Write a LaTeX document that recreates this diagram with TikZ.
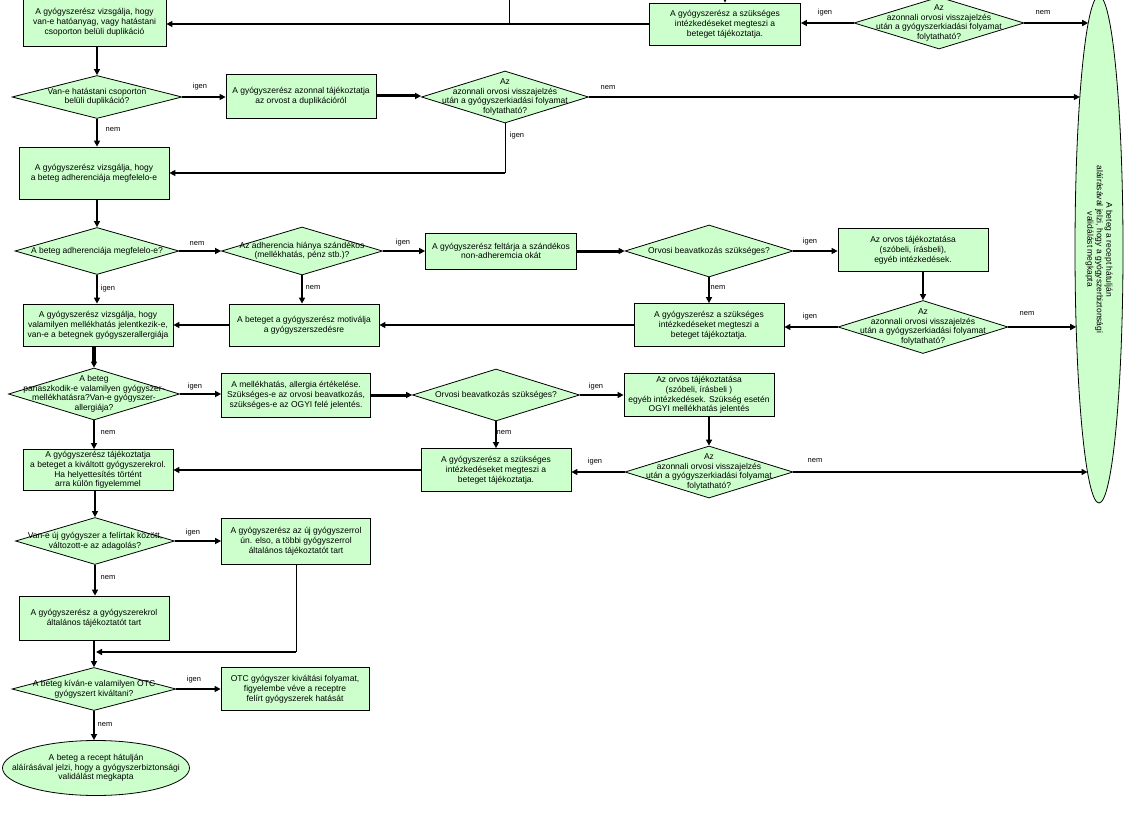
\documentclass[tikz,border=0pt]{standalone}
\usepackage{fontspec}
\setmainfont{Liberation Sans}
\usetikzlibrary{shapes.geometric,arrows.meta,calc}
\definecolor{nodegreen}{RGB}{204,255,204}
\begin{document}
\begin{tikzpicture}[x=1pt,y=-1pt,
  box/.style 2 args={draw, fill=nodegreen, line width=0.8pt, minimum width=#1pt, minimum height=#2pt, inner sep=0pt, align=center, font=\fontsize{8.5}{9.8}\selectfont},
  dia/.style 2 args={diamond, draw, fill=nodegreen, line width=0.8pt, minimum width=#1pt, minimum height=#2pt, inner sep=0pt},
  ell/.style 2 args={ellipse, draw, fill=nodegreen, line width=0.8pt, minimum width=#1pt, minimum height=#2pt, inner sep=0pt},
  txt/.style={align=center, font=\fontsize{8.5}{9.5}\selectfont, inner sep=0pt},
  lbl/.style={font=\fontsize{7.5}{8}\selectfont, inner sep=0pt},
  arr/.style={line width=2pt, -{Triangle[length=6pt,width=6pt]}},
  arrthick/.style={line width=3pt, -{Triangle[length=6pt,width=6pt]}},
  plainline/.style={line width=2pt},
  thinline/.style={line width=1pt},
  ]
\useasboundingbox (0,0) rectangle (1143,824);

% ---------- nodes ----------
\node[box={151}{42}] (B0) at (725,24) {A gyógyszerész a szükséges\\intézkedéseket megteszi a\\beteget tájékoztatja.};
\node[dia={170}{52}, label={[txt]center:{Az\\azonnali orvosi visszajelzés\\után a gyógyszerkiadási folyamat\\folytatható?}}] (D0) at (939,23) {};
\node[box={143}{47}] (B1) at (94.5,22.5) {A gyógyszerész vizsgálja, hogy\\van-e hatóanyag, vagy hatástani\\csoporton belüli duplikáció};
\node[dia={170}{43}, label={[txt]center:{Van-e hatástani csoporton\\belüli duplikáció?}}] (D1) at (97,97) {};
\node[box={150}{44}] (B2) at (301,96) {A gyógyszerész azonnal tájékoztatja\\az orvost a duplikációról};
\node[dia={167}{52}, label={[txt]center:{Az\\azonnali orvosi visszajelzés\\után a gyógyszerkiadási folyamat\\folytatható?}}] (D2) at (505,97) {};
\node[box={150}{52}] (B3) at (94,173) {A gyógyszerész vizsgálja, hogy\\a beteg adherenciája megfelelo-e};
\node[dia={164}{47}, label={[txt]center:{A beteg adherenciája megfelelo-e?}}] (D3) at (97,251) {};
\node[dia={161}{48}, label={[txt]center:{Az adherencia hiánya szándékos\\(mellékhatás, pénz stb.)?}}] (D4) at (302,251) {};
\node[box={151}{36}] (B4) at (501,251) {A gyógyszerész feltárja a szándékos\\non-adheremcia okát};
\node[dia={168}{52}, label={[txt]center:{Orvosi beavatkozás szükséges?}}] (D5) at (709,251) {};
\node[box={150}{43}] (B5) at (913,250) {Az orvos tájékoztatása\\(szóbeli, írásbeli),\\egyéb intézkedések.};
\node[dia={170}{53}, label={[txt]center:{Az\\azonnali orvosi visszajelzés\\után a gyógyszerkiadási folyamat\\folytatható?}}] (D6) at (923,327) {};
\node[box={150}{43}] (B6) at (709,325) {A gyógyszerész a szükséges\\intézkedéseket megteszi a\\beteget tájékoztatja.};
\node[box={150}{42}] (B7) at (304,325) {A beteget a gyógyszerész motiválja\\a gyógyszerszedésre};
\node[box={150}{42}] (B8) at (98,325) {A gyógyszerész vizsgálja, hogy\\valamilyen mellékhatás jelentkezik-e,\\van-e a betegnek gyógyszerallergiája};
\node[dia={171}{52}, label={[txt]center:{A beteg\\panaszkodik-e valamilyen gyógyszer-\\mellékhatásra?Van-e gyógyszer-\\allergiája?}}] (D7) at (94,394) {};
\node[box={149}{44}] (B9) at (296,395) {A mellékhatás, allergia értékelése.\\Szükséges-e az orvosi beavatkozás,\\szükséges-e az OGYI felé jelentés.};
\node[dia={167}{52}, label={[txt]center:{Orvosi beavatkozás szükséges?}}] (D8) at (496,395) {};
\node[box={150}{43}] (B10) at (699,395) {Az orvos tájékoztatása\\(szóbeli, írásbeli )\\egyéb intézkedések. Szükség esetén\\OGYI mellékhatás jelentés};
\node[dia={168}{52}, label={[txt]center:{Az\\azonnali orvosi visszajelzés\\után a gyógyszerkiadási folyamat\\folytatható?}}] (D9) at (709,472) {};
\node[box={150}{43}] (B11) at (496,470) {A gyógyszerész a szükséges\\intézkedéseket megteszi a\\beteget tájékoztatja.};
\node[box={150}{41}] (B12) at (98,470) {A gyógyszerész tájékoztatja\\a beteget a kiváltott gyógyszerekrol.\\Ha helyettesítés történt\\arra külön figyelemmel};
\node[dia={159}{47}, label={[txt]center:{Van-e új gyógyszer a felírtak között,\\változott-e az adagolás?}}] (D10) at (95,541) {};
\node[box={149}{46}] (B13) at (296,541) {A gyógyszerész az új gyógyszerrol\\ún. elso, a többi gyógyszerrol\\általános tájékoztatót tart};
\node[box={150}{44}] (B14) at (94,618) {A gyógyszerész a gyógyszerekrol\\általános tájékoztatót tart};
\node[dia={164}{43}, label={[txt]center:{A beteg kíván-e valamilyen OTC\\gyógyszert kiváltani?}}] (D11) at (94,689) {};
\node[box={148}{43}] (B15) at (295,689) {OTC gyógyszer kiváltási folyamat,\\figyelembe véve a receptre\\felírt gyógyszerek hatását};
\node[ell={187}{55}, label={[txt]center:{A beteg a recept hátulján\\aláírásával jelzi, hogy a gyógyszerbiztonsági\\validálást megkapta}}] (E1) at (96,768) {};
\node[ell={48}{507}, label={[txt, rotate=-90]center:{A beteg a recept hátulján\\aláírásával jelzi, hogy a gyógyszerbiztonsági\\validálást megkapta}}] (E2) at (1099,249.5) {};

% ---------- free ends ----------
\coordinate (t1) at (509,0);
\coordinate (t2) at (725,0);
\coordinate (e2a) at (1088.2,23);
\coordinate (e2b) at (1079.8,97);
\coordinate (e2c) at (1076.2,327);
\coordinate (e2d) at (1087.5,472);
\coordinate (m) at (96,652);

% ---------- connectors ----------
\draw[thinline] (t1) -- (t1 |- B0.west);
\draw[arr] (t2) -- (B0.north);
\draw[arr] (B0.west) -- (B0.west -| B1.east);
\draw[arr] (D0.west) -- (D0.west -| B0.east);
\draw[arr] (D0.east) -- (e2a);

\draw[arr] (D1.north |- B1.south) -- (D1.north);
\draw[arr] (D1.east) -- (D1.east -| B2.west);
\draw[arrthick] (B2.east) -- (B2.east -| D2.west);
\draw[arr] (D2.east) -- (e2b);
\draw[thinline] (D2.south) -- (D2.south |- B3.east);
\draw[arr] (D2.south |- B3.east) -- (B3.east);
\draw[arr] (D1.south) -- (D1.south |- B3.north);

\draw[arr] (D3.north |- B3.south) -- (D3.north);
\draw[arr] (D3.east) -- (D4.west);
\draw[arr] (D4.east) -- (B4.west);
\draw[arrthick] (B4.east) -- (D5.west);
\draw[arr] (D5.east) -- (D5.east -| B5.west);
\draw[arr] (D6.north |- B5.south) -- (D6.north);
\draw[arr] (D6.east) -- (e2c);
\draw[arr] (D6.west) -- (D6.west -| B6.east);
\draw[arr] (D5.south) -- (B6.north);
\draw[arr] (B6.west) -- (B6.west -| B7.east);
\draw[arr] (D4.south) -- (D4.south |- B7.north);
\draw[arr] (B7.west) -- (B7.west -| B8.east);
\draw[arr] (D3.south) -- (D3.south |- B8.north);

\draw[line width=4pt, -{Triangle[length=6pt,width=6pt]}] (D7.north |- B8.south) -- (D7.north);
\draw[arr] (D7.east) -- (D7.east -| B9.west);
\draw[arrthick] (B9.east) -- (B9.east -| D8.west);
\draw[arr] (D8.east) -- (D8.east -| B10.west);
\draw[arr] (D9.north |- B10.south) -- (D9.north);
\draw[arr] (D8.south) -- (D8.south |- B11.north);
\draw[arr] (D9.west) -- (D9.west -| B11.east);
\draw[arr] (D9.east) -- (e2d);
\draw[arr] (B11.west) -- (B11.west -| B12.east);
\draw[arr] (D7.south) -- (D7.south |- B12.north);

\draw[arr] (D10.north |- B12.south) -- (D10.north);
\draw[arr] (D10.east) -- (D10.east -| B13.west);
\draw[arr] (D10.south) -- (D10.south |- B14.north);
\draw[thinline] (B13.south) -- (B13.south |- m);
\draw[arr] (B13.south |- m) -- (m);
\draw[arr] (D11.north |- B14.south) -- (D11.north);
\draw[arr] (D11.east) -- (D11.east -| B15.west);
\draw[arr] (D11.south) -- (D11.south |- E1.north);

% ---------- connector labels ----------
\node[lbl] (L1) at (200,87) {igen};
\node[lbl] (L2) at (113,130) {nem};
\node[lbl] (L3) at (608,87.5) {nem};
\node[lbl] (L4) at (517,136) {igen};
\node[lbl] (L5) at (825,13) {igen};
\node[lbl] (L6) at (1043,12.5) {nem};
\node[lbl] (L7) at (197,244) {nem};
\node[lbl] (L8) at (108,289) {igen};
\node[lbl] (L9) at (313,288) {nem};
\node[lbl] (L10) at (403,243) {igen};
\node[lbl] (L11) at (810,242) {igen};
\node[lbl] (L12) at (718,288) {nem};
\node[lbl] (L13) at (810,317) {igen};
\node[lbl] (L14) at (1027,314) {nem};
\node[lbl] (L15) at (195,387) {igen};
\node[lbl] (L16) at (108,433) {nem};
\node[lbl] (L17) at (596,387) {igen};
\node[lbl] (L18) at (504,433) {nem};
\node[lbl] (L19) at (595,462) {igen};
\node[lbl] (L20) at (815,461) {nem};
\node[lbl] (L21) at (193,533) {igen};
\node[lbl] (L22) at (108,578) {nem};
\node[lbl] (L23) at (194,680) {igen};
\node[lbl] (L24) at (105,725) {nem};
\end{tikzpicture}
\end{document}
